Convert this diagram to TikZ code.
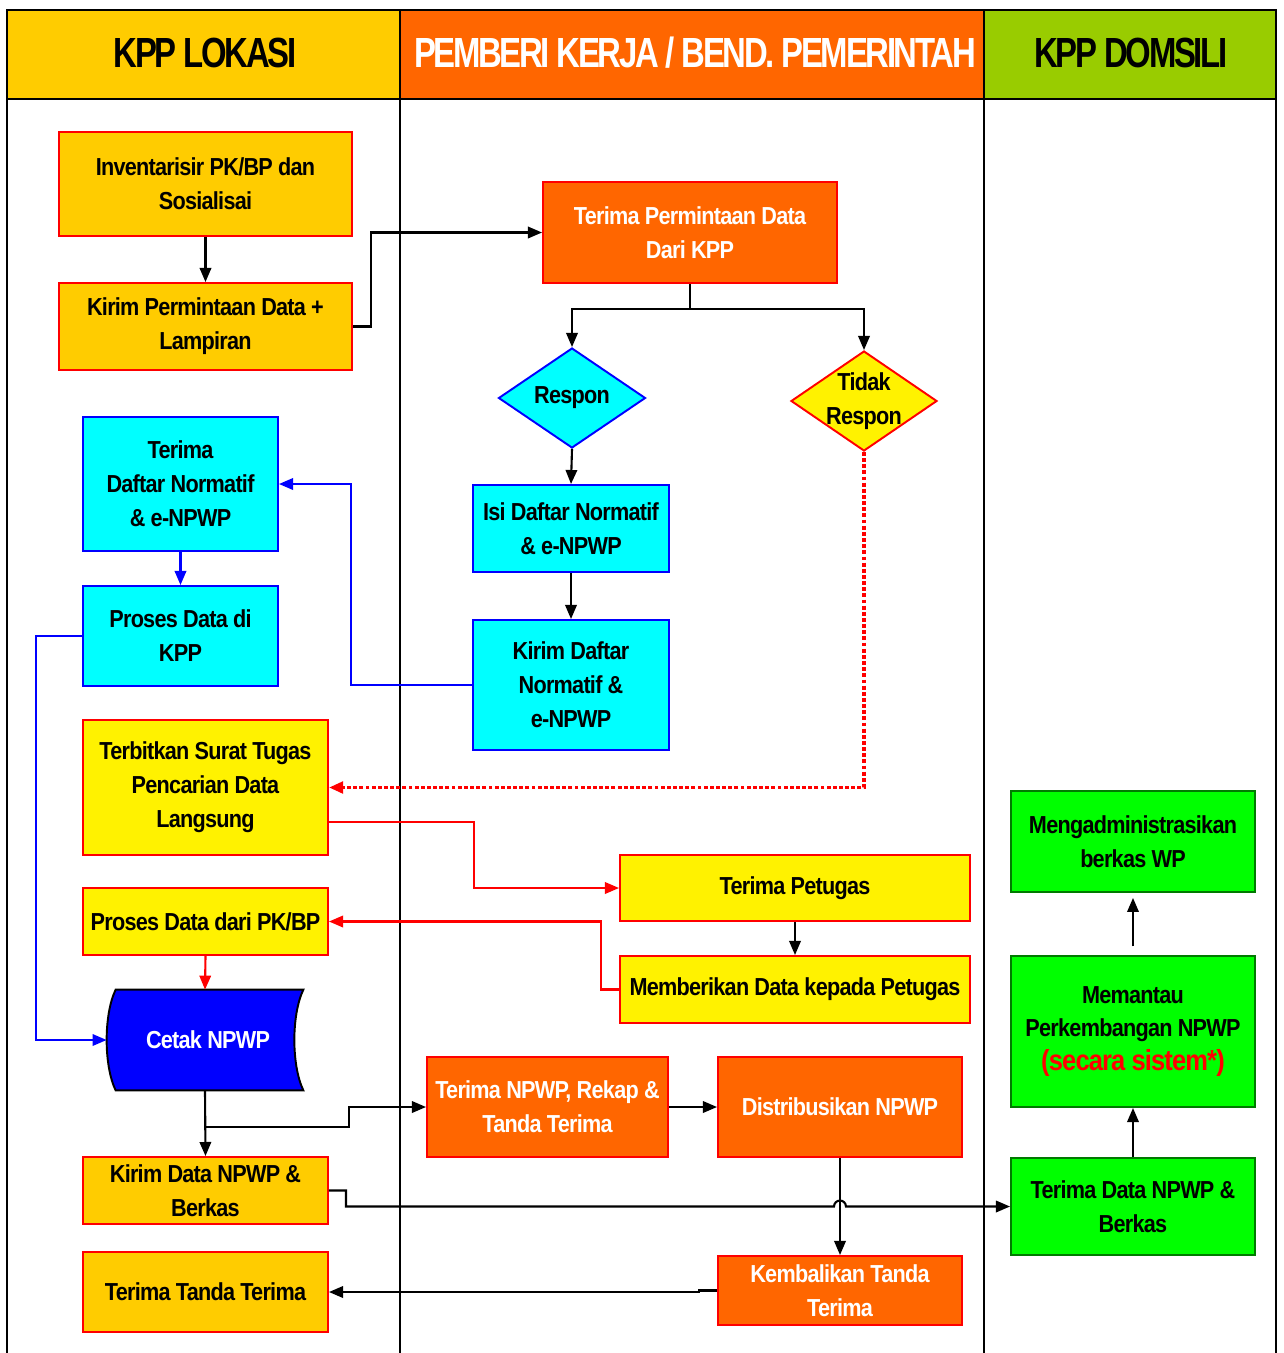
\documentclass[tikz,border=0pt]{standalone}
\usepackage{fontspec}
\setmainfont{Liberation Sans}
\newfontfamily\bfnt[FakeStretch=0.88,LetterSpace=-3]{Liberation Sans Bold}
\newfontfamily\hfnt[FakeStretch=0.78,LetterSpace=-5.5]{Liberation Sans Bold}
\usetikzlibrary{shapes.geometric,arrows.meta,calc}
\newlength\px \setlength\px{0.02cm}
\definecolor{gold}{HTML}{FFCC00}
\definecolor{orng}{HTML}{FF6600}
\definecolor{hgreen}{HTML}{99CC00}
\definecolor{bgreen}{HTML}{00FF00}
\definecolor{dgreen}{HTML}{007A00}
\definecolor{cyn}{HTML}{00FFFF}
\definecolor{blu}{HTML}{0000FF}
\newcommand\bx[7]{\node[#6, minimum width={(#4-#2)*\px}, minimum height={(#5-#3)*\px}] (#1) at ({(#2+#4)/2},{(#3+#5)/2}) {#7};}
\tikzset{
  box/.style={draw, line width=1.1pt, inner sep=0pt, align=center, font=\bfnt\fontsize{14}{19.3}\selectfont},
  gbox/.style={box, fill=gold, draw=red},
  obox/.style={box, fill=orng, draw=red, text=white},
  ybox/.style={box, fill=yellow, draw=red},
  cbox/.style={box, fill=cyn, draw=blu},
  grbox/.style={box, fill=bgreen, draw=dgreen},
  txt/.style={inner sep=0pt, align=center, font=\bfnt\fontsize{14}{19.3}\selectfont},
  conn/.style={line width=1.2pt, -{Triangle[length=8pt,width=6.5pt]}},
  bconn/.style={conn, draw=blu},
  rconn/.style={conn, draw=red},
  lane/.style={line width=1.2pt},
  hdr/.style={inner sep=0pt, font=\hfnt\fontsize{24}{26}\selectfont}
}
\begin{document}
\begin{tikzpicture}[x=0.02cm, y=-0.02cm]
\fill[white] (0,0) rectangle (1284,1353);
\useasboundingbox (0,0) rectangle (1284,1353);
% header
\fill[gold] (7,10) rectangle (400,99);
\fill[orng] (400,10) rectangle (984,99);
\fill[hgreen] (984,10) rectangle (1276,99);
\node[hdr] (h1) at (205,53) {KPP LOKASI};
\node[hdr, text=white] (h2) at (695,53) {PEMBERI KERJA / BEND. PEMERINTAH};
\node[hdr] (h3) at (1131,53) {KPP DOMSILI};
\draw[lane] (7,1353) -- (7,10) -- (1276,10) -- (1276,1353);
\draw[lane] (7,99) -- (1276,99);
\draw[lane] (400,10) -- (400,1353);
\draw[lane] (984,10) -- (984,1353);
% KPP Lokasi
\bx{inv}{59}{132}{352}{236}{gbox}{Inventarisir PK/BP dan\\Sosialisai}
\bx{kirim}{59}{283}{352}{370}{gbox}{Kirim Permintaan Data +\\Lampiran}
\bx{td}{83}{417}{278}{551}{cbox}{Terima\\Daftar Normatif\\\& e-NPWP}
\bx{pkpp}{83}{586}{278}{686}{cbox}{Proses Data di\\KPP}
\bx{terbit}{83}{720}{328}{855}{ybox}{Terbitkan Surat Tugas\\Pencarian Data\\Langsung}
\bx{pbp}{83}{888}{328}{955}{ybox}{Proses Data dari PK/BP}
\bx{knpwp}{83}{1157}{328}{1224}{gbox}{Kirim Data NPWP \&\\Berkas}
\bx{ttt}{83}{1252}{328}{1332}{gbox}{Terima Tanda Terima}
% Cetak NPWP
\node[minimum width={196*\px}, minimum height={100*\px}, inner sep=0pt] (cetak) at (205,1040) {};
\draw[fill=blu, line width=1.1pt] ($(cetak.north west)+(9,0)$) -- (cetak.north east)
  .. controls ($(cetak.north east)+(-12,25)$) and ($(cetak.south east)+(-12,-25)$) .. (cetak.south east)
  -- ($(cetak.south west)+(9,0)$)
  .. controls ($(cetak.south west)+(-3,-25)$) and ($(cetak.north west)+(-3,25)$) .. ($(cetak.north west)+(9,0)$) -- cycle;
\node[txt, text=white] (cetaktxt) at ($(cetak)+(3,0)$) {Cetak NPWP};
% Pemberi kerja
\bx{tpd}{543}{182}{837}{283}{obox}{Terima Permintaan Data\\Dari KPP}
\node[diamond, draw=blu, fill=cyn, line width=1.1pt, inner sep=0pt, minimum width={147*\px}, minimum height={100*\px}] (respon) at (572,398) {};
\node[txt] (respontxt) at (respon) {Respon};
\node[diamond, draw=red, fill=yellow, line width=1.1pt, inner sep=0pt, minimum width={146*\px}, minimum height={100*\px}] (tidak) at (864,401) {};
\node[txt] (tidaktxt) at (tidak) {Tidak\\Respon};
\bx{isi}{473}{485}{669}{572}{cbox}{Isi Daftar Normatif\\\& e-NPWP}
\bx{kd}{473}{620}{669}{750}{cbox}{Kirim Daftar\\Normatif \&\\e-NPWP}
\bx{pet}{620}{855}{970}{921}{ybox}{Terima Petugas}
\bx{beri}{620}{956}{970}{1023}{ybox}{Memberikan Data kepada Petugas}
\bx{tnpwp}{427}{1057}{668}{1157}{obox}{Terima NPWP, Rekap \&\\Tanda Terima}
\bx{dist}{718}{1057}{962}{1157}{obox}{Distribusikan NPWP}
\bx{kemb}{718}{1256}{962}{1325}{obox}{Kembalikan Tanda\\Terima}
% KPP Domisili
\bx{adm}{1011}{791}{1255}{892}{grbox}{Mengadministrasikan\\berkas WP}
\bx{mem}{1011}{956}{1255}{1107}{grbox}{Memantau\\Perkembangan NPWP\\{\fontsize{16.5}{20}\selectfont\color{red}(secara sistem*)}}
\bx{tdata}{1011}{1158}{1255}{1255}{grbox}{Terima Data NPWP \&\\Berkas}
% connectors
\draw[conn] (inv.south) -- (kirim.north);
\draw[conn] (kirim.east) -- ++(18,0) |- (tpd.west);
\draw[line width=1.2pt] (tpd.south) -- ++(0,25) coordinate (split);
\draw[conn] (split) -| (respon.north);
\draw[conn] (split) -| (tidak.north);
\draw[conn] (respon.south) -- (isi.north);
\draw[conn] (isi.south) -- (kd.north);
\draw[bconn] (kd.west) -- ++(-121,0) |- (td.east);
\draw[bconn] (td.south) -- (pkpp.north);
\draw[bconn] (pkpp.west) -- ++(-46,0) |- (cetak.west);
\draw[rconn, line width=2pt, dash pattern=on 2.2pt off 1.3pt] (tidak.south) |- (terbit.east);
\draw[rconn] ($(terbit.east)!0.5!(terbit.south east)$) -- ++(145,0) |- (pet.west);
\draw[conn] (pet.south) -- (beri.north);
\draw[rconn] (beri.west) -- ++(-18,0) |- (pbp.east);
\draw[rconn] (pbp.south) -- (cetak.north);
\draw[conn] (cetak.south) -- (knpwp.north);
\draw[conn] (cetak.south) -- ++(0,37) -- ++(144,0) |- (tnpwp.west);
\draw[conn] (tnpwp.east) -- (dist.west);
\draw[conn] (dist.south) -- (kemb.north);
\draw[conn] (kemb.west) -- ++(-18,0) |- (ttt.east);
\draw[conn] (knpwp.east) -- ++(17,0) |- ($(dist.south |- tdata.west)+(-6,0)$)
  arc[start angle=180, end angle=0, radius=3.4pt] -- (tdata.west);
\draw[conn] (tdata.north) -- (mem.south);
\draw[conn, shorten <=5pt, shorten >=2.8pt] (mem.north) -- (adm.south);
\end{tikzpicture}
\end{document}
